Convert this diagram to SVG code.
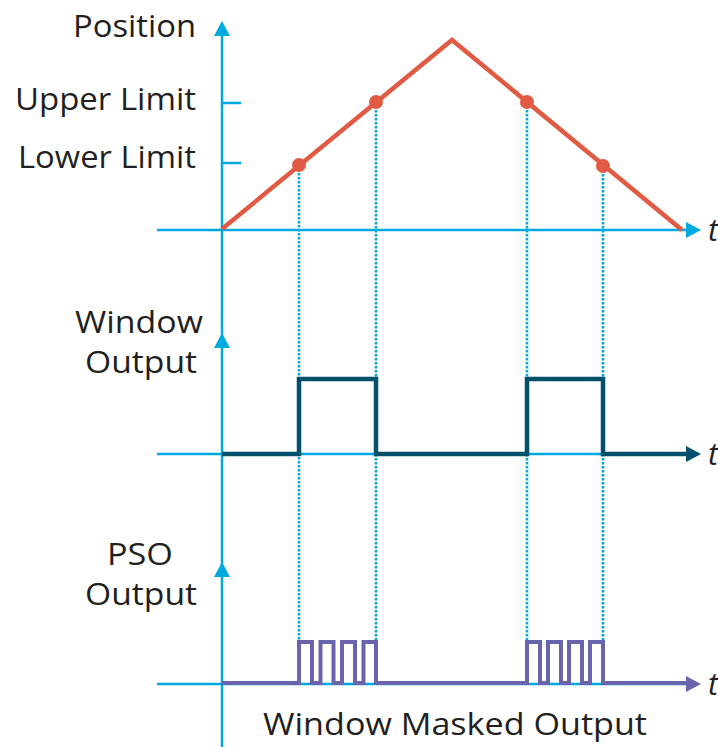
<svg xmlns="http://www.w3.org/2000/svg" width="718" height="747" viewBox="0 0 718 747">
<style>
  .lbl{font-family:"Open Sans","Noto Sans","Liberation Sans",sans-serif;font-size:31px;fill:#231f20}
  .tl{font-family:"Open Sans","Liberation Sans",sans-serif;font-size:31px;font-style:italic;fill:#231f20}
  .axis{stroke:#00a9e0;stroke-width:2.5;fill:none}
  .dot{stroke:#00a9e0;stroke-width:2.6;stroke-dasharray:2.5 1.5;fill:none}
  .cyanhead{fill:#00a9e0}
</style>
<rect width="718" height="747" fill="#ffffff"/>

<g id="guides">
  <line class="dot" x1="299" y1="165" x2="299" y2="683"/>
  <line class="dot" x1="376" y1="102" x2="376" y2="683"/>
  <line class="dot" x1="527" y1="102" x2="527" y2="683"/>
  <line class="dot" x1="603" y1="166" x2="603" y2="683"/>
</g>

<g id="axes">
  <line class="axis" x1="222" y1="34" x2="222" y2="747"/>
  <polygon class="cyanhead" points="222,21 214,36 230,36"/>
  <polygon class="cyanhead" points="222,333 214,348 230,348"/>
  <polygon class="cyanhead" points="222,562 214,577 230,577"/>
  <line class="axis" x1="222" y1="103" x2="241" y2="103"/>
  <line class="axis" x1="222" y1="163" x2="241" y2="163"/>
  <line class="axis" x1="157" y1="230" x2="688" y2="230"/>
  <polygon class="cyanhead" points="701,230 686,222 686,238"/>
  <line class="axis" x1="157" y1="454" x2="688" y2="454"/>
  <line class="axis" x1="157" y1="684" x2="688" y2="684"/>
</g>

<g id="position-signal">
  <polyline points="222,229 452,40 682,230" fill="none" stroke="#e05a44" stroke-width="4.5" stroke-linejoin="miter"/>
  <circle cx="299" cy="165" r="7" fill="#e05a44"/>
  <circle cx="376" cy="102" r="7" fill="#e05a44"/>
  <circle cx="527" cy="102" r="7" fill="#e05a44"/>
  <circle cx="603" cy="166" r="7" fill="#e05a44"/>
</g>

<g id="window-signal">
  <path d="M222,454 H299 V379 H376 V454 H527 V379 H603 V454 H688" fill="none" stroke="#00506b" stroke-width="4.5" stroke-linejoin="miter"/>
  <polygon points="701,454 686,446 686,462" fill="#00506b"/>
</g>

<g id="pso-signal">
  <path d="M222,683 H299 V642 H312 V683 H320.5 V642 H333.5 V683 H342 V642 H355 V683 H363.5 V642 H376 V683 H527 V642 H540 V683 H548 V642 H561 V683 H569 V642 H582 V683 H590 V642 H603 V683 H688" fill="none" stroke="#6a63ad" stroke-width="4" stroke-linejoin="miter"/>
  <polygon points="701,684 686,676 686,692" fill="#6a63ad"/>
</g>

<g id="labels">
  <text class="lbl" x="73" y="37" textLength="123" lengthAdjust="spacingAndGlyphs">Position</text>
  <text class="lbl" x="15" y="110" textLength="181" lengthAdjust="spacingAndGlyphs">Upper Limit</text>
  <text class="lbl" x="18" y="168" textLength="178" lengthAdjust="spacingAndGlyphs">Lower Limit</text>
  <text class="lbl" x="75" y="333" textLength="128" lengthAdjust="spacingAndGlyphs">Window</text>
  <text class="lbl" x="85" y="373" textLength="112" lengthAdjust="spacingAndGlyphs">Output</text>
  <text class="lbl" x="107" y="565" textLength="66" lengthAdjust="spacingAndGlyphs">PSO</text>
  <text class="lbl" x="85" y="605" textLength="112" lengthAdjust="spacingAndGlyphs">Output</text>
  <text class="lbl" x="263" y="735" textLength="384" lengthAdjust="spacingAndGlyphs">Window Masked Output</text>
  <text class="tl" x="708" y="241">t</text>
  <text class="tl" x="708" y="465">t</text>
  <text class="tl" x="708" y="695">t</text>
</g>
</svg>
